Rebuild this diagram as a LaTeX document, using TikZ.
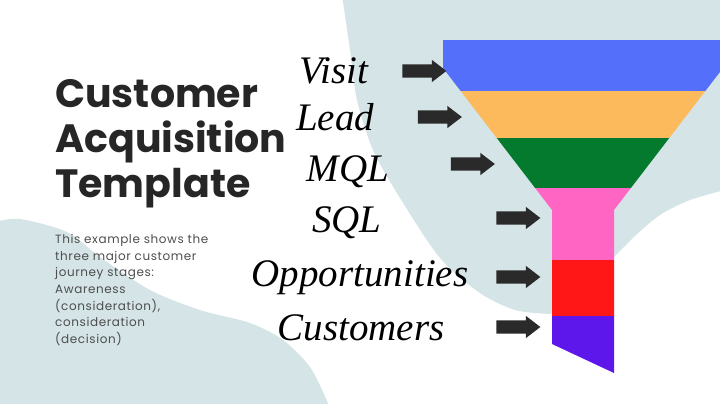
\documentclass[tikz,border=0pt]{standalone}
\usepackage{fontspec}
\usetikzlibrary{shapes.arrows}
\newfontfamily\poppins{Poppins}
\newfontfamily\stagefont{Liberation Serif}
\definecolor{blob}{RGB}{212,228,231}
\definecolor{arrowgray}{RGB}{42,42,42}
\definecolor{bodygray}{RGB}{78,78,78}
\definecolor{visitblue}{RGB}{84,112,250}
\definecolor{leadorange}{RGB}{253,186,92}
\definecolor{mqlgreen}{RGB}{4,122,46}
\definecolor{sqlpink}{RGB}{255,102,196}
\definecolor{oppred}{RGB}{255,22,22}
\definecolor{custpurple}{RGB}{94,23,235}

\begin{document}
\begin{tikzpicture}[x=1pt,y=-1pt,
  stage/.style={font=\stagefont\itshape\fontsize{39}{39}\selectfont, inner sep=0pt, anchor=base},
  pointer/.style={single arrow, fill=arrowgray, minimum height=44pt, inner xsep=0pt, inner ysep=6.5pt,
    single arrow head extend=4.5pt, single arrow tip angle=75},
  headline/.style={font=\poppins\bfseries\fontsize{39.5}{39.5}\selectfont, text=black!85, inner sep=0pt, anchor=base west}]
  \useasboundingbox (0,0) rectangle (720,404);
  \clip (0,0) rectangle (720,404);

  \fill[blob] plot[smooth] coordinates {(342,-5) (350,50) (357,100) (373,150) (400,198) (440,258) (480,293) (515,310) (550,314)}
    -- (600,300)
    -- plot[smooth] coordinates {(614,257) (635,236) (660,215) (690,200) (725,190)} -- (725,-5) -- cycle;
  \fill[blob] plot[smooth] coordinates {(-5,222) (20,219) (67,232) (100,257) (150,290) (200,310) (250,323) (283,340) (310,367) (327,401) (330,410)}
    -- (-5,410) -- cycle;

  \begin{scope}
    \clip (443,40) -- (723,40) -- (723,68) -- (614,210) -- (614,373) -- (552,344) -- (552,210) -- (443,68) -- cycle;
    \fill[visitblue] (440,40) rectangle (725,91);
    \fill[leadorange] (440,91) rectangle (725,138);
    \fill[mqlgreen] (440,138) rectangle (725,188);
    \fill[sqlpink] (440,188) rectangle (725,260);
    \fill[oppred] (440,260) rectangle (725,316);
    \fill[custpurple] (440,316) rectangle (725,380);
  \end{scope}

  \node[headline] (customer) at (55,107) {Customer};
  \node[headline] (acquisition) at (55,152) {Acquisition};
  \node[headline] (template) at (55,197) {Template};
  \node[font=\poppins\addfontfeature{LetterSpace=5}\fontsize{12}{16.7}\selectfont, text=bodygray, align=left, inner sep=0pt, anchor=north west] (intro) at (55,234)
    {This example shows the\\three major customer\\journey stages:\\Awareness\\(consideration),\\consideration\\(decision)};

  \node[stage] (visit) at (334,83) {Visit};
  \node[stage] (lead) at (335,130) {Lead};
  \node[stage] (mql) at (348,181) {MQL};
  \node[stage] (sql) at (347,232) {SQL};
  \node[stage] (opportunities) at (360,286) {Opportunities};
  \node[stage] (customers) at (361,340) {Customers};

  \node[pointer] (visitarrow) at (420,71) {};
  \node[pointer] (leadarrow) at (435.5,117) {};
  \node[pointer] (mqlarrow) at (468.5,164) {};
  \node[pointer] (sqlarrow) at (514,218) {};
  \node[pointer] (opparrow) at (514,277) {};
  \node[pointer] (custarrow) at (514,327) {};
\end{tikzpicture}
\end{document}
